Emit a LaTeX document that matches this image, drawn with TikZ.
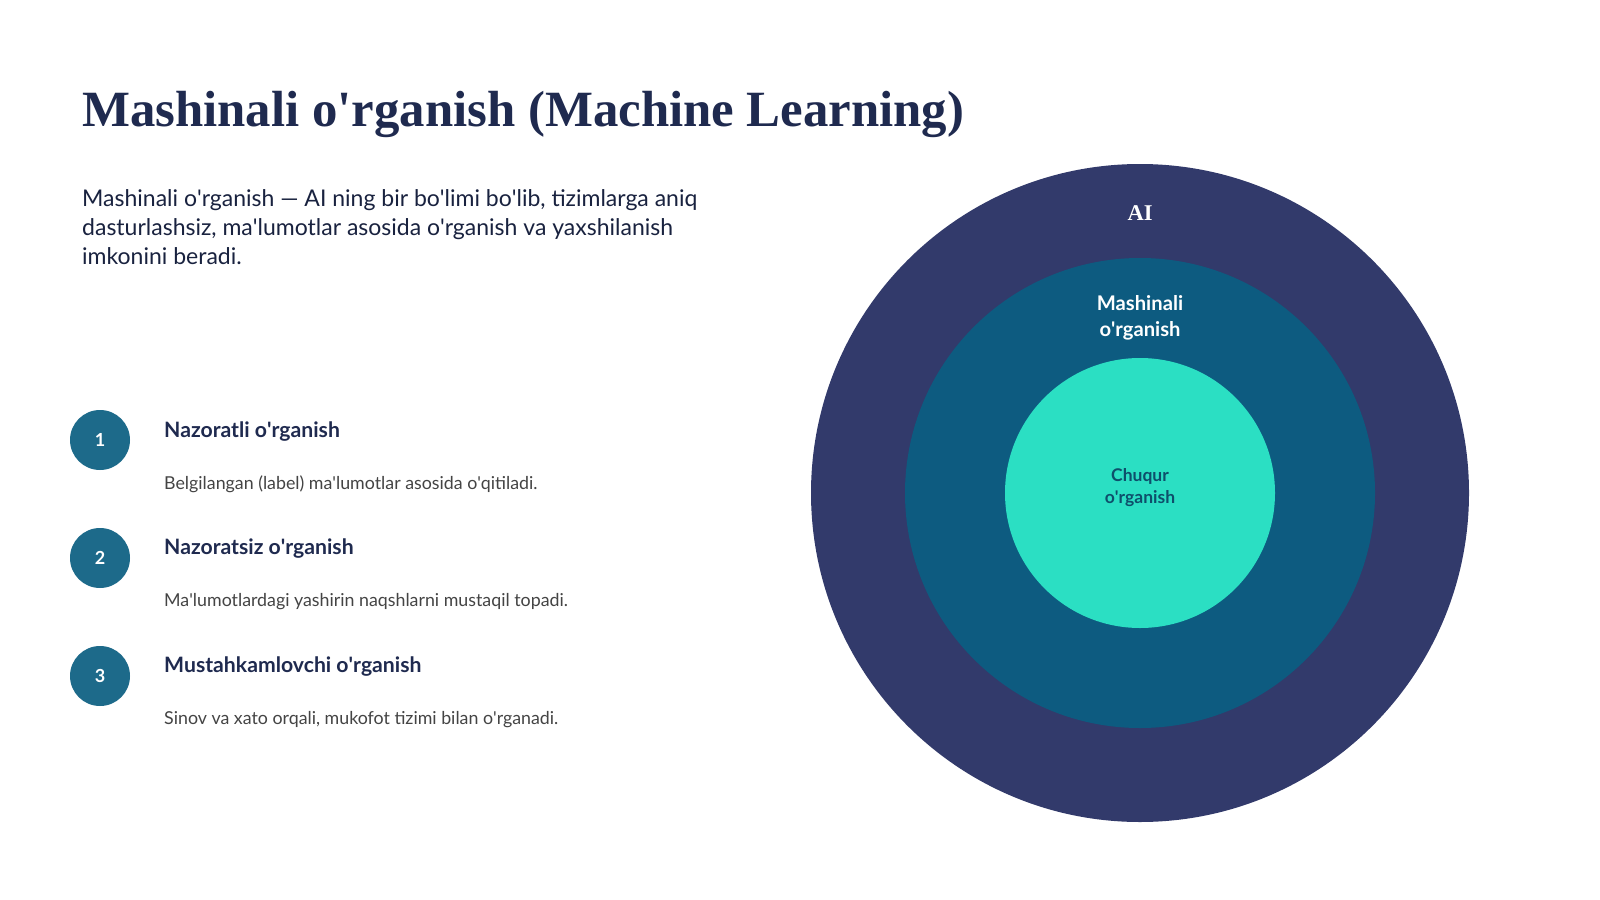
\documentclass[tikz,border=0pt]{standalone}
\usepackage{fontspec}
\setmainfont{Lato}
\newfontfamily\titlefont{Liberation Serif}
\newcommand\ap{\textquotesingle}
\definecolor{navy}{HTML}{1F2A4F}
\definecolor{ringA}{HTML}{323A6B}
\definecolor{ringB}{HTML}{0D5B80}
\definecolor{ringC}{HTML}{2BDFC3}
\definecolor{numc}{HTML}{1D6A8A}
\definecolor{desc}{HTML}{444444}
\definecolor{deept}{HTML}{0E4F6B}
\tikzset{
  body/.style={anchor=base west, inner sep=0pt, text=navy!80!black, font=\fontsize{23}{29}\selectfont},
  head/.style={anchor=base west, inner sep=0pt, text=navy, font=\fontsize{21.2}{24}\selectfont\bfseries},
  descr/.style={anchor=base west, inner sep=0pt, text=desc, font=\fontsize{17.8}{20}\selectfont},
  numdot/.style={circle, fill=numc, minimum size=60pt, inner sep=0pt, text=white, font=\fontsize{18}{20}\selectfont\bfseries},
  ring/.style={circle, inner sep=0pt},
  lab/.style={align=center, inner sep=0pt},
}
\begin{document}
\begin{tikzpicture}[x=1pt,y=-1pt]
\useasboundingbox[fill=white] (0,0) rectangle (1600,899);
\node[anchor=base west, inner sep=0pt, text=navy, font=\fontsize{50.8}{56}\selectfont\titlefont\bfseries] (title) at (82,126) {Mashinali o'rganish (Machine Learning)};
\node[body] (p1) at (82,206) {Mashinali o\ap rganish — AI ning bir bo\ap limi bo\ap lib, tizimlarga aniq};
\node[body] (p2) at (82,235) {dasturlashsiz, ma\ap lumotlar asosida o\ap rganish va yaxshilanish};
\node[body] (p3) at (82,264) {imkonini beradi.};

\node[numdot] (n1) at (100,440) {1};
\node[numdot] (n2) at (100,558) {2};
\node[numdot] (n3) at (100,676) {3};
\node[head] (h1) at (164,437) {Nazoratli o\ap rganish};
\node[head] (h2) at (164,554) {Nazoratsiz o\ap rganish};
\node[head] (h3) at (164,672) {Mustahkamlovchi o\ap rganish};
\node[descr] (d1) at (164,489) {Belgilangan (label) ma\ap lumotlar asosida o\ap qitiladi.};
\node[descr] (d2) at (164,606) {Ma\ap lumotlardagi yashirin naqshlarni mustaqil topadi.};
\node[descr] (d3) at (164,724) {Sinov va xato orqali, mukofot tizimi bilan o\ap rganadi.};

\node[ring, fill=ringA, minimum size=658pt] (ai) at (1140,493) {};
\node[ring, fill=ringB, minimum size=470pt] (ml) at (1140,493) {};
\node[ring, fill=ringC, minimum size=270pt] (dl) at (1140,493) {};
\node[lab, text=white, font=\fontsize{22.5}{24}\selectfont\titlefont\bfseries] (tai) at (1140,213) {AI};
\node[lab, text=white, font=\fontsize{20.2}{26}\selectfont\bfseries] (tml) at (1140,318) {Mashinali\\o\ap rganish};
\node[lab, text=deept, font=\fontsize{17.5}{22}\selectfont\bfseries] (tdl) at (1140,488) {Chuqur\\o\ap rganish};
\end{tikzpicture}
\end{document}
